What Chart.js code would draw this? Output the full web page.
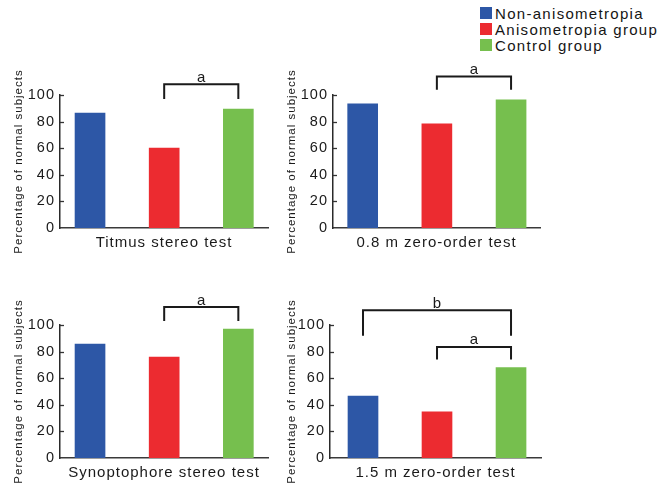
<!DOCTYPE html>
<html>
<head>
<meta charset="utf-8">
<script src="https://cdn.jsdelivr.net/npm/chart.js@4.4.1/dist/chart.umd.min.js"></script>
<style>
  html, body { margin:0; padding:0; background:#fff; width:664px; height:487px; overflow:hidden; }
  body { position:relative; font-family:"Liberation Sans", Arial, sans-serif; }
  canvas { position:absolute; }
  #legend { position:absolute; left:480px; top:5px; }
  .item { height:16px; display:flex; align-items:center; font-size:15px; letter-spacing:1.3px; color:#151515; white-space:nowrap; }
  .sw { width:12px; height:12px; margin-right:3px; flex:none; }
</style>
</head>
<body>
<div id="legend"></div>
<canvas id="c0" width="280" height="200"></canvas>
<canvas id="c1" width="280" height="200"></canvas>
<canvas id="c2" width="280" height="200"></canvas>
<canvas id="c3" width="280" height="200"></canvas>
<script>
// ---------- data ----------
const categories = ['Non-anisometropia', 'Anisometropia group', 'Control group'];
const tests = ['Titmus stereo test', '0.8 m zero-order test', 'Synoptophore stereo test', '1.5 m zero-order test'];
const titmusValues = [86.4, 60.1, 89.5];
const zero08Values = [93.3, 78.4, 96.3];
const synoptophoreValues = [85.7, 75.9, 97.0];
const zero15Values = [46.5, 34.7, 68.0];
const yTicks = [0, 20, 40, 60, 80, 100];
const yAxisLabel = 'Percentage of normal subjects';
const titmusSig = [{ from: 1, to: 2, label: 'a' }];
const zero08Sig = [{ from: 1, to: 2, label: 'a' }];
const synoptophoreSig = [{ from: 1, to: 2, label: 'a' }];
const zero15Sig = [{ from: 0, to: 2, label: 'b' }, { from: 1, to: 2, label: 'a' }];

// ---------- styles / layout ----------
const barColors = ['#2d57a6', '#ec2b30', '#76bf4e'];
const FONT = '"Liberation Sans", Arial, sans-serif';
const TEXT = '#1a1a1a';

const panels = [
  { values: titmusValues, sig: titmusSig, title: tests[0], left: 0, top: 60, plotLeft: 60, plotRight: 268, xmin: -0.405, xmax: 2.40, tops: [108], legs: [97] },
  { values: zero08Values, sig: zero08Sig, title: tests[1], left: 273, top: 60, plotLeft: 333, plotRight: 540, xmin: -0.40, xmax: 2.39, tops: [114], legs: [104] },
  { values: synoptophoreValues, sig: synoptophoreSig, title: tests[2], left: 0, top: 290, plotLeft: 60, plotRight: 268, xmin: -0.405, xmax: 2.40, tops: [113.5], legs: [103] },
  { values: zero15Values, sig: zero15Sig, title: tests[3], left: 273, top: 290, plotLeft: 330, plotRight: 541, xmin: -0.446, xmax: 2.405, tops: [111, 83.5], legs: [92, 74] }
];

// legend
const legendEl = document.getElementById('legend');
categories.forEach((c, i) => {
  const d = document.createElement('div');
  d.className = 'item';
  d.innerHTML = '<span class="sw" style="background:' + barColors[i] + '"></span><span></span>';
  d.lastChild.textContent = c;
  legendEl.appendChild(d);
});

const spacingPlugin = {
  id: 'spacing',
  beforeDraw(chart) { chart.ctx.letterSpacing = '1px'; }
};

const decorPlugin = {
  id: 'decor',
  afterDraw(chart, args, opts) {
    const ctx = chart.ctx;
    const xs = chart.scales.x, ys = chart.scales.y;
    const left = chart.chartArea.left;
    ctx.save();
    // inward tick marks
    ctx.strokeStyle = '#333';
    ctx.lineWidth = 1.3;
    ys.ticks.forEach(t => {
      if (t.value === 0) return;
      const y = Math.round(ys.getPixelForValue(t.value)) + 0.5;
      ctx.beginPath();
      ctx.moveTo(left, y);
      ctx.lineTo(left + 4, y);
      ctx.stroke();
    });
    // significance brackets
    ctx.strokeStyle = '#1a1a1a';
    ctx.lineWidth = 2;
    ctx.fillStyle = TEXT;
    ctx.font = '15px ' + FONT;
    ctx.textAlign = 'center';
    ctx.textBaseline = 'alphabetic';
    ctx.letterSpacing = '0px';
    opts.items.forEach((b, k) => {
      const x1 = xs.getPixelForValue(b.from);
      const x2 = xs.getPixelForValue(b.to);
      const yt = ys.getPixelForValue(opts.tops[k]);
      const yl = ys.getPixelForValue(opts.legs[k]);
      ctx.beginPath();
      ctx.moveTo(x1, yl);
      ctx.lineTo(x1, yt);
      ctx.lineTo(x2, yt);
      ctx.lineTo(x2, yl);
      ctx.stroke();
      ctx.fillText(b.label, (x1 + x2) / 2, yt - 2.5);
    });
    ctx.restore();
  }
};

panels.forEach((p, idx) => {
  const cv = document.getElementById('c' + idx);
  cv.style.left = p.left + 'px';
  cv.style.top = p.top + 'px';
  const W = 280, H = 200;
  const padLeft = 3, padTop = 35;
  const yWidth = p.plotLeft - p.left - padLeft;
  const padRight = W - (p.plotRight - p.left);
  const plotH = 133;
  const xHeight = H - padTop - plotH;

  new Chart(cv, {
    type: 'bar',
    data: {
      datasets: [{
        label: p.title,
        data: p.values.map((v, i) => ({ x: i, y: v })),
        backgroundColor: barColors,
        borderWidth: 0,
        barThickness: 30,
        grouped: false
      }]
    },
    options: {
      responsive: false,
      animation: false,
      events: [],
      layout: { padding: { left: padLeft, top: padTop, right: padRight, bottom: 0 } },
      plugins: {
        legend: { display: false },
        tooltip: { enabled: false },
        decor: { items: p.sig, tops: p.tops, legs: p.legs }
      },
      scales: {
        x: {
          type: 'linear',
          offset: false,
          min: p.xmin,
          max: p.xmax,
          grid: { display: false, offset: false, drawTicks: false },
          border: { display: true, color: '#3a3a3a', width: 1.5 },
          ticks: { display: false },
          title: { display: true, text: p.title, color: TEXT, font: { family: FONT, size: 15 }, padding: { top: 0, bottom: 8 } },
          afterFit(s) { s.height = xHeight; }
        },
        y: {
          min: 0,
          max: 100,
          afterBuildTicks(s) { s.ticks = yTicks.map(v => ({ value: v })); },
          grid: { display: false, drawTicks: false },
          border: { display: true, color: '#2a2a2a', width: 1.5 },
          ticks: { color: TEXT, font: { family: FONT, size: 14.5 }, padding: 5 },
          title: { display: true, text: yAxisLabel, color: TEXT, font: { family: FONT, size: 11.5 }, padding: { top: 9, bottom: 0 } },
          afterFit(s) { s.width = yWidth; }
        }
      }
    },
    plugins: [spacingPlugin, decorPlugin]
  });
});
</script>
</body>
</html>
